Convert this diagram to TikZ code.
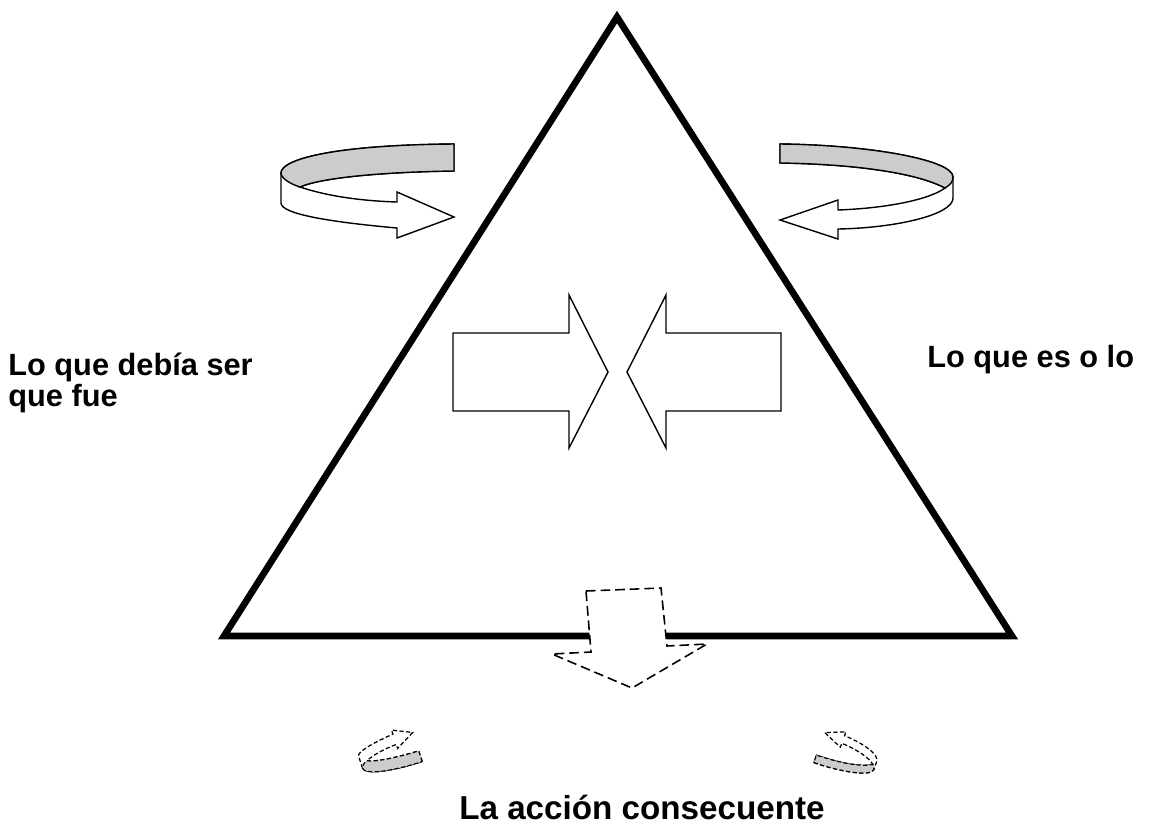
\documentclass[tikz,border=0pt]{standalone}
\usepackage{fontspec}
\setmainfont{Liberation Sans}
\definecolor{bandgray}{RGB}{204,204,204}

% twisted ribbon arrows, pixel coordinates of the big ones
\newcommand{\turnleft}[1]{%
  \draw[#1, fill=white] (454,144) -- (454,171) .. controls (380,172) and (320,178) .. (300,187)
    .. controls (330,197) and (365,201) .. (397,202) -- (397,192) -- (454,217) -- (397,238) -- (397,228)
    .. controls (330,222) and (281,214) .. (281,203) -- (281,173)
    .. controls (281,160) and (330,145) .. (454,144) -- cycle;
  \draw[#1, fill=bandgray] (454,144) -- (454,171) .. controls (380,172) and (320,178) .. (300,187)
    .. controls (290,184) and (281,178) .. (281,173)
    .. controls (281,160) and (330,145) .. (454,144) -- cycle;
}
\newcommand{\turnright}[1]{%
  \draw[#1, fill=white] (780,144) .. controls (870,145) and (953,160) .. (953,177) -- (953,198)
    .. controls (953,215) and (895,228) .. (838,229) -- (838,239) -- (780,220) -- (838,200) -- (838,210)
    .. controls (890,208) and (930,199) .. (945,188)
    .. controls (915,172) and (850,164) .. (780,163) -- cycle;
  \draw[#1, fill=bandgray] (780,144) .. controls (870,145) and (953,160) .. (953,177)
    .. controls (953,182) and (950,185) .. (945,188)
    .. controls (915,172) and (850,164) .. (780,163) -- cycle;
}

\begin{document}
\begin{tikzpicture}[x=0.02cm, y=-0.02cm,
    thinline/.style={line width=0.8pt, line join=miter},
    dashline/.style={line width=0.9pt, dash pattern=on 5.5pt off 2.8pt},
    smalldash/.style={line width=0.7pt, dash pattern=on 2.4pt off 1.4pt},
    lbl/.style={inner sep=0pt, font=\fontsize{17.5}{17.1}\selectfont\bfseries}]
    \fill[white] (0,0) rectangle (1150,826);
    \useasboundingbox (0,0) rectangle (1150,826);

    % triangle
    \draw[line width=3.8pt, line join=miter] (617,17) -- (1012,636) -- (224,636) -- cycle;

    % turning arrows
    \turnleft{thinline}
    \turnright{thinline}

    % arrows meeting in the middle
    \draw[thinline] (453,333) -- (569,333) -- (569,295) -- (608,372) -- (569,448) -- (569,411) -- (453,411) -- cycle;
    \draw[thinline] (781,333) -- (666,333) -- (666,295) -- (627,372) -- (666,448) -- (666,411) -- (781,411) -- cycle;

    % dashed arrow down
    \draw[dashline, fill=white] (586,591) -- (661,588) -- (667,646) -- (707,644) -- (632,688) -- (552,654) -- (591,652) -- cycle;

    % small dashed turning arrows
    \begin{scope}[shift={(388,752)}, rotate=18, xscale=0.34, yscale=-0.42, shift={(-367,-191)}]
        \turnleft{smalldash}
    \end{scope}
    \begin{scope}[shift={(848,754)}, rotate=-20, xscale=0.34, yscale=-0.42, shift={(-866,-191)}]
        \turnright{smalldash}
    \end{scope}

    % labels
    \node[lbl, anchor=base west, align=left] (debia) at (8,406) {Lo que debía ser\\que fue};
    \node[lbl, anchor=base west] (es) at (927,367) {Lo que es o lo};
    \node[lbl, anchor=base, font=\fontsize{18.9}{22}\selectfont\bfseries] (accion) at (642,819) {La acción consecuente};
\end{tikzpicture}
\end{document}
